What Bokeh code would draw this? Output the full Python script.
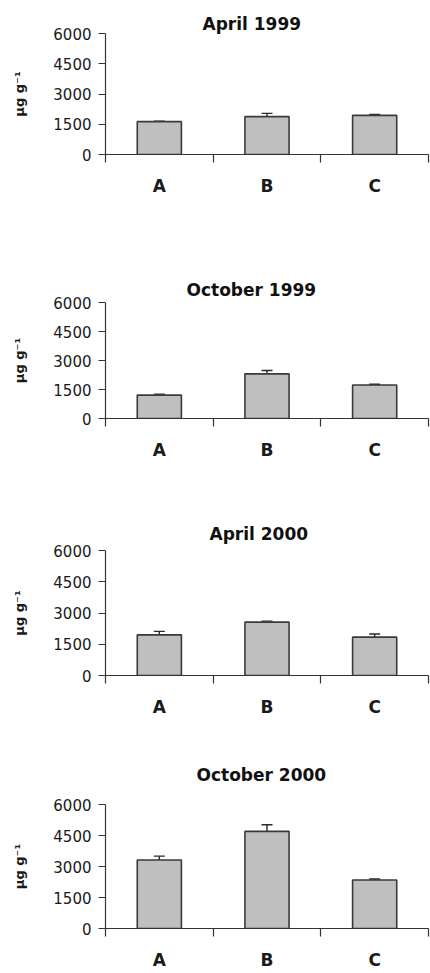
from bokeh.plotting import figure
from bokeh.models import (ColumnDataSource, Range1d, LinearAxis,
                          FixedTicker, Whisker, TeeHead)
from bokeh.layouts import column
from bokeh.embed import file_html
from bokeh.resources import INLINE

# ---- data ----
categories = ["A", "B", "C"]
titles = ["April 1999", "October 1999", "April 2000", "October 2000"]

april_1999 = [1630, 1880, 1940]
april_1999_err = [20, 160, 50]
october_1999 = [1210, 2310, 1730]
october_1999_err = [50, 170, 40]
april_2000 = [1950, 2560, 1840]
april_2000_err = [170, 50, 150]
october_2000 = [3315, 4700, 2350]
october_2000_err = [185, 320, 45]

y_ticks = [0, 1500, 3000, 4500, 6000]
y_label = "μg g⁻¹"

series = [(april_1999, april_1999_err), (october_1999, october_1999_err),
          (april_2000, april_2000_err), (october_2000, october_2000_err)]

# category slots on a linear scale: slot i spans [i, i+1], centre at i + 0.5
n = len(categories)
centres = [i + 0.5 for i in range(n)]
edges = list(range(n + 1))

# ---- layout (style) ----
# fig height, top border, frame height, title standoff, title left offset
layout = [
    (270, 33, 121, 0, 97),
    (245, 32, 116, 6, 81),
    (227, 33, 127, 13, 104),
    (230, 62, 130, 40, 91),
]
W = 430
LEFT = 105
FONT = "DejaVu Sans"

figs = []
for (title, (vals, errs), (h, top, fh, stand, off)) in zip(titles, series, layout):
    p = figure(width=W, height=h, x_range=Range1d(0, n), y_range=Range1d(0, 6000),
               output_backend="svg", toolbar_location=None, tools="",
               x_axis_location=None, y_axis_location=None,
               min_border_left=LEFT, min_border_right=2,
               min_border_top=top, min_border_bottom=h - top - fh)
    p.outline_line_color = None
    p.background_fill_color = "white"
    p.border_fill_color = "white"
    p.xgrid.visible = False
    p.ygrid.visible = False

    p.title.text = title
    p.title.align = "left"
    p.title.offset = off
    p.title.standoff = stand
    p.title.text_font = FONT
    p.title.text_font_style = "bold"
    p.title.text_font_size = "17px"
    p.title.text_color = "#111111"

    # y axis
    yax = LinearAxis(ticker=FixedTicker(ticks=y_ticks), axis_label=y_label)
    yax.major_tick_out = 7
    yax.major_tick_in = 0
    yax.minor_tick_line_color = None
    yax.major_label_standoff = 7
    yax.major_label_text_font = FONT
    yax.major_label_text_font_size = "15px"
    yax.major_label_text_color = "#1a1a1a"
    yax.axis_label_text_font = FONT
    yax.axis_label_text_font_style = "bold"
    yax.axis_label_text_font_size = "13px"
    yax.axis_label_text_color = "#1a1a1a"
    yax.axis_label_standoff = 23
    yax.axis_line_color = "#333333"
    yax.major_tick_line_color = "#333333"
    yax.axis_line_width = 1.2
    p.add_layout(yax, "left")

    # x axis: labels at slot centres, ticks at slot boundaries
    xax = LinearAxis(ticker=FixedTicker(ticks=centres, minor_ticks=edges))
    xax.major_label_overrides = {c: cat for c, cat in zip(centres, categories)}
    xax.major_tick_out = 0
    xax.major_tick_in = 0
    xax.major_tick_line_color = None
    xax.minor_tick_out = 8
    xax.minor_tick_in = 0
    xax.minor_tick_line_color = "#333333"
    xax.minor_tick_line_width = 1.2
    xax.axis_line_color = "#333333"
    xax.axis_line_width = 1.2
    xax.major_label_standoff = 13
    xax.major_label_text_font = FONT
    xax.major_label_text_font_style = "bold"
    xax.major_label_text_font_size = "17px"
    xax.major_label_text_color = "#1a1a1a"
    p.add_layout(xax, "below")

    src = ColumnDataSource(dict(x=centres, top=vals,
                                upper=[v + e for v, e in zip(vals, errs)]))
    p.vbar(x="x", top="top", width=0.41, source=src,
           fill_color="#bfbfbf", line_color="#3a3a3a", line_width=1.6)
    w = Whisker(base="x", upper="upper", lower="top", source=src,
                line_color="#2a2a2a", line_width=1.4,
                upper_head=TeeHead(size=11, line_color="#2a2a2a", line_width=1.4),
                lower_head=None)
    p.add_layout(w)
    figs.append(p)

page = column(*figs, spacing=0)
open("out.html", "w").write(file_html(page, INLINE))
